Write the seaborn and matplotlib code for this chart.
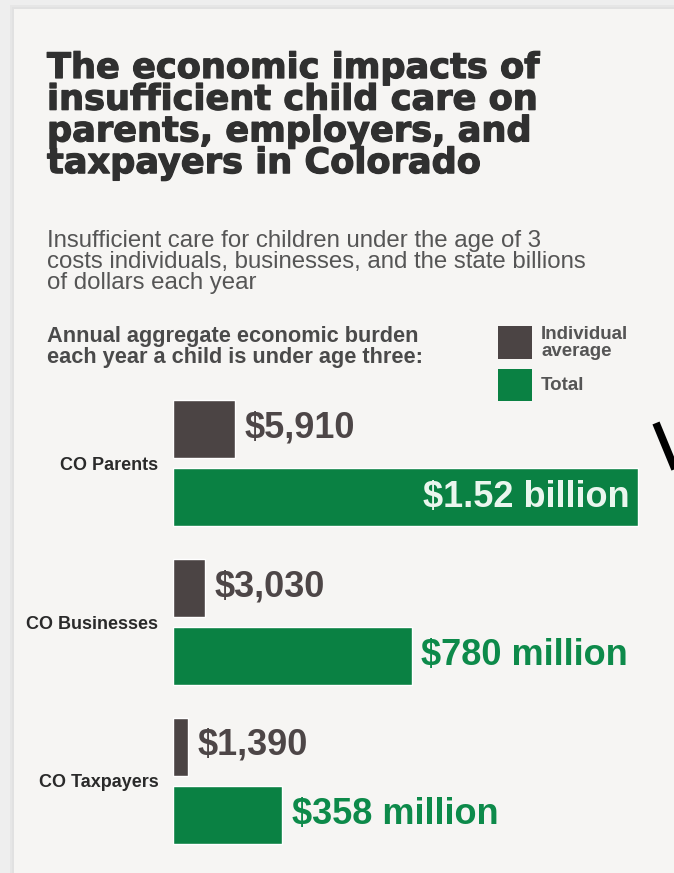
import matplotlib
matplotlib.use("Agg")
import matplotlib.pyplot as plt
import matplotlib.patheffects as pe
from matplotlib.patches import Rectangle
from matplotlib.lines import Line2D
import pandas as pd
import seaborn as sns

# ---- data -------------------------------------------------------------
groups = ["CO Parents", "CO Businesses", "CO Taxpayers"]
individual_avg = [5910, 3030, 1390]      # dollars per year, per individual
total_millions = [1520, 780, 358]        # millions of dollars per year
series = ["Individual average", "Total"]

title_lines = [
    "The economic impacts of",
    "insufficient child care on",
    "parents, employers, and",
    "taxpayers in Colorado",
]
subtitle_lines = [
    "Insufficient care for children under the age of 3",
    "costs individuals, businesses, and the state billions",
    "of dollars each year",
]
burden_lines = [
    "Annual aggregate economic burden",
    "each year a child is under age three:",
]
legend_labels = ["Individual\naverage", "Total"]

# ---- style ------------------------------------------------------------
DARK = "#4b4444"
GREEN = "#0a8143"
CARD = "#f6f5f3"
TITLE = "#303030"

sns.set_theme(style="white")
plt.rcParams["font.family"] = ["Liberation Sans", "DejaVu Sans"]

W, H = 674, 873
fig = plt.figure(figsize=(W / 100, H / 100), dpi=100, facecolor="#eeeeee")


def fx(px):
    return px / W


def fy(py):
    return 1 - py / H


# card with a soft shadow along its top and left edges (kept behind the axes)
for off, col in [(4, "#e6e6e6"), (2, "#e1e1e1")]:
    fig.patches.append(Rectangle((fx(14 - off), 0), 1, fy(9 - off),
                                 transform=fig.transFigure, facecolor=col,
                                 edgecolor="none", zorder=-2))
fig.patches.append(Rectangle((fx(14), 0), 1, fy(9), transform=fig.transFigure,
                             facecolor=CARD, edgecolor="none", zorder=-1))

# ---- headings ---------------------------------------------------------
heavy = [pe.withStroke(linewidth=0.9, foreground=TITLE)]
for i, line in enumerate(title_lines):
    fig.text(fx(47), fy(78 + i * 31.7), line, family="DejaVu Sans",
             fontsize=25.3, fontweight="bold", color=TITLE, va="baseline",
             path_effects=heavy)

for i, line in enumerate(subtitle_lines):
    fig.text(fx(47), fy(247 + i * 21), line, fontsize=17.3, color="#555555",
             va="baseline")

for i, line in enumerate(burden_lines):
    fig.text(fx(47), fy(342 + i * 21), line, fontsize=15.7, fontweight="bold",
             color="#4a4a4a", va="baseline")

# legend swatches
for (top, bottom), col, lab, ty in zip([(326, 359), (369, 401)], [DARK, GREEN],
                                       legend_labels, [343, 386]):
    fig.patches.append(Rectangle((fx(498), fy(bottom)), fx(532) - fx(498),
                                 (bottom - top) / H, transform=fig.transFigure,
                                 facecolor=col, edgecolor="none"))
    fig.text(fx(541), fy(ty), lab, fontsize=13.5, fontweight="bold",
             color="#555555", va="center", linespacing=0.95)

# ---- bars -------------------------------------------------------------
df = pd.DataFrame({
    "group": groups * 2,
    "series": [series[0]] * len(groups) + [series[1]] * len(groups),
    "value": individual_avg + total_millions,
})

ax = fig.add_axes([fx(173), fy(860), fx(650) - fx(173), (860 - 384) / H])
ax.set_facecolor("none")
sns.barplot(data=df[df["series"] == series[0]], x="value", y="group",
            hue="series", hue_order=series, palette=[DARK, GREEN],
            orient="h", width=0.857, gap=0.147, dodge=True, saturation=1,
            errorbar=None, legend=False, ax=ax)

ax2 = ax.twiny()
ax2.set_facecolor("none")
sns.barplot(data=df[df["series"] == series[1]], x="value", y="group",
            hue="series", hue_order=series, palette=[DARK, GREEN],
            orient="h", width=0.857, gap=0.147, dodge=True, saturation=1,
            errorbar=None, legend=False, ax=ax2)

ax.set_xlim(0, 45600)
ax2.set_xlim(0, 1560)
ax.set_ylim(len(groups) - 0.5, -0.5)

for a in (ax, ax2):
    sns.despine(ax=a, left=True, bottom=True, top=True, right=True)
    a.set_xticks([])
    a.set_xlabel("")
    a.set_ylabel("")
    a.grid(False)

ax.tick_params(axis="y", length=0, pad=10.5, labelsize=13,
               labelcolor="#2a2a2a")
for lbl in ax.get_yticklabels():
    lbl.set_fontweight("bold")


def drawn_bars(axis):
    """Bars of the one hue level that has data on this axis."""
    return next(c for c in axis.containers if len(c))


# value labels
ind_bars = drawn_bars(ax)
for bar, v in zip(ind_bars, ind_bars.datavalues):
    ax.annotate(f"${v:,.0f}", xy=(v, bar.get_y() + bar.get_height() / 2),
                xytext=(7, 1), textcoords="offset points", ha="left",
                va="center", fontsize=26, fontweight="bold", color="#4d4647",
                annotation_clip=False)

xmax2 = ax2.get_xlim()[1]
tot_bars = drawn_bars(ax2)
for bar, v in zip(tot_bars, tot_bars.datavalues):
    text = f"${v / 1000:.2f} billion" if v >= 1000 else f"${v:.0f} million"
    yc = bar.get_y() + bar.get_height() / 2
    if v > 0.6 * xmax2:
        ax2.annotate(text, xy=(v, yc), xytext=(-6, 0),
                     textcoords="offset points", ha="right", va="center",
                     fontsize=26, fontweight="bold", color="#eaf6ee",
                     annotation_clip=False)
    else:
        ax2.annotate(text, xy=(v, yc), xytext=(7, 0),
                     textcoords="offset points", ha="left", va="center",
                     fontsize=26, fontweight="bold", color="#0d8a4a",
                     annotation_clip=False)

# dark stroke entering from the right margin
fig.add_artist(Line2D([fx(656), fx(684)], [fy(423), fy(491)],
                      transform=fig.transFigure, color="black", lw=5.5,
                      solid_capstyle="butt"))

fig.savefig("out.png", dpi=100, facecolor=fig.get_facecolor())
